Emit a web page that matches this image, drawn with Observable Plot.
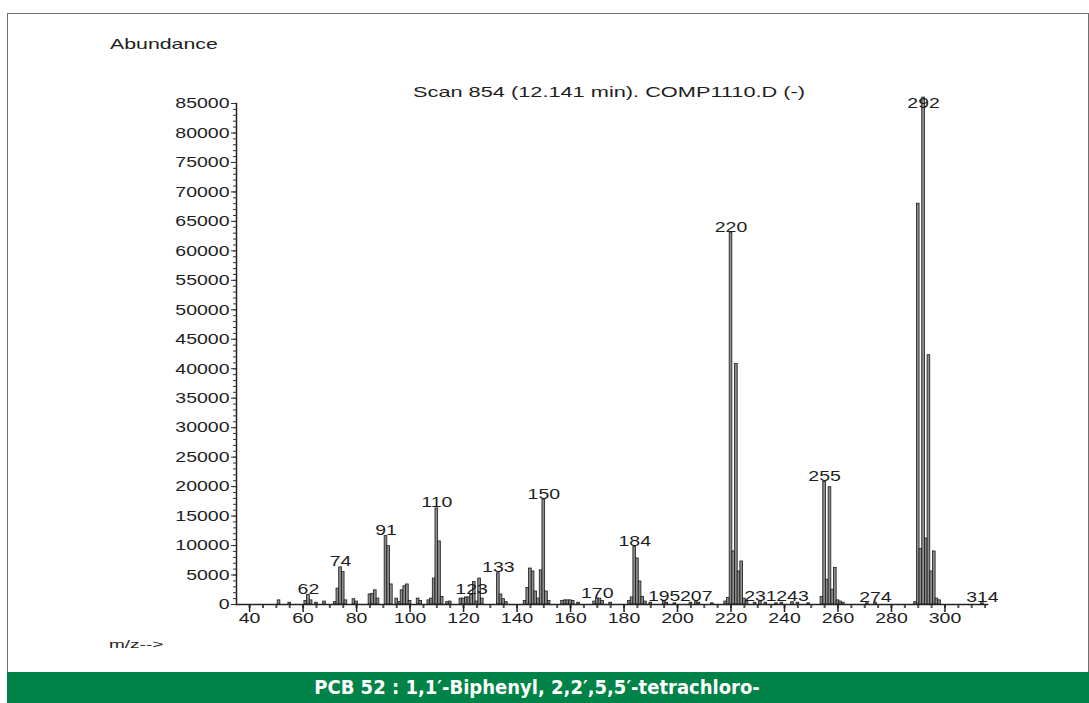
<!DOCTYPE html>
<html>
<head>
<meta charset="utf-8">
<script src="https://cdn.jsdelivr.net/npm/d3@7"></script>
<script src="https://cdn.jsdelivr.net/npm/@observablehq/plot@0.6"></script>
<style>
  html, body { margin: 0; padding: 0; background: #fff; width: 1089px; height: 703px; overflow: hidden; position: relative; }
  #frame { position: absolute; left: 7px; top: 13px; width: 1080px; height: 658px; border: 1.5px solid #707070; border-bottom: none; }
  #chart { position: absolute; left: 0; top: 0; }
  .lbl { position: absolute; font-family: "Liberation Sans", Arial, sans-serif; color: #1e1e1e; transform-origin: left center; white-space: nowrap; line-height: 1; }
  #footer { position: absolute; left: 7px; top: 672px; width: 1060px; padding-right: 22px; height: 31px; background: #008347; color: #fff;
            font: bold 20px "Liberation Sans Narrow", "DejaVu Sans Condensed", sans-serif; text-align: center; line-height: 31px; }
</style>
</head>
<body>
<div id="frame"></div>
<div id="chart"></div>
<div class="lbl" style="left:110px;top:36px;font-size:15px;transform:scaleX(1.42)">Abundance</div>
<div class="lbl" style="left:413px;top:84px;font-size:15px;transform:scaleX(1.45)">Scan 854 (12.141 min). COMP1110.D (-)</div>
<div class="lbl" style="left:109px;top:640px;font-size:10px;transform:scaleX(1.9)">m/z--&gt;</div>
<div id="footer">PCB 52 : 1,1′-Biphenyl, 2,2′,5,5′-tetrachloro-</div>

<script>
// Mass spectrum of PCB 52 (scan 854): m/z and abundance of each ion
const mz = [
  51, 55, 61, 62, 63, 65, 68, 72, 73, 74, 75, 76, 79, 80,
  85, 86, 87, 88, 91, 92, 93, 95, 96, 97, 98, 99, 100,
  103, 104, 107, 108, 109, 110, 111, 112, 114, 115,
  119, 120, 121, 122, 123, 124, 125, 126, 127,
  133, 134, 135, 136, 143, 144, 145, 146, 147, 148, 149, 150, 151, 152,
  157, 158, 159, 160, 161, 163, 169, 170, 171, 172, 175,
  182, 183, 184, 185, 186, 187, 188, 190, 195, 196, 199, 205, 207, 208, 213,
  218, 219, 220, 221, 222, 223, 224, 225, 226, 229, 231, 233, 237, 239, 243, 245, 249,
  254, 255, 256, 257, 258, 259, 260, 261, 262, 271, 274,
  289, 290, 291, 292, 293, 294, 295, 296, 297, 298, 314
];
const abundance = [
  700, 300, 600, 1600, 700, 300, 500, 400, 2700, 6300, 5500, 700, 900, 500,
  1700, 1800, 2400, 1000, 11600, 9900, 3400, 1000, 400, 2400, 3100, 3400, 600,
  1000, 600, 700, 1000, 4400, 16300, 10700, 1300, 400, 500,
  1000, 1000, 1200, 1200, 1600, 3800, 500, 4400, 1000,
  5300, 1700, 900, 400, 600, 2800, 6100, 5600, 2200, 1000, 5800, 17800, 2200, 600,
  600, 700, 700, 700, 600, 300, 500, 1000, 1000, 600, 300,
  600, 1200, 9800, 7800, 3900, 1300, 500, 300, 500, 300, 200, 300, 400, 300, 200,
  500, 1100, 63100, 9000, 40800, 5600, 7300, 1000, 500, 300, 500, 300, 200, 300, 400, 300, 200,
  1300, 20800, 4200, 19900, 2500, 6200, 700, 500, 300, 200, 300,
  400, 68000, 9400, 86000, 11200, 42300, 5600, 9000, 1000, 700, 200
];
// Ions annotated with their m/z
const labeledMz = [62, 74, 91, 110, 123, 133, 150, 170, 184, 195, 207, 220, 231, 243, 255, 274, 292, 314];

// Axis ticks
const xTicks = d3.range(40, 301, 20);
const xMinorTicks = d3.range(40, 316, 5);
const yTicks = d3.range(0, 85001, 5000);
const yMinorTicks = d3.range(0, 85001, 1000);

const peaks = mz.map((m, i) => ({mz: m, ab: abundance[i]}));
const labels = peaks.filter(d => labeledMz.includes(d.mz));

const font = "Liberation Sans, Arial, sans-serif";

const chart = Plot.plot({
  width: 1089,
  height: 672,
  marginLeft: 236,
  marginRight: 102,
  marginTop: 103,
  marginBottom: 68,
  style: {fontFamily: font, fontSize: "15px", color: "#1e1e1e", background: "transparent"},
  x: {domain: [35.1, 315.9], label: null},
  y: {domain: [0, 85000], label: null},
  marks: [
    Plot.axisY({ticks: yMinorTicks, tickSize: 3, text: null, label: null, strokeWidth: 1, stroke: "#333"}),
    Plot.axisY({ticks: yTicks, tickSize: 5, tickPadding: 2, tickFormat: "d", fontSize: 15, label: null, stroke: "#333"}),
    Plot.axisX({ticks: xMinorTicks, tickSize: 4, text: null, label: null, stroke: "#555", strokeWidth: 2}),
    Plot.axisX({ticks: xTicks, tickSize: 8, tickPadding: 0, tickFormat: "d", fontSize: 15, label: null, stroke: "#222", strokeWidth: 1.5}),
    Plot.rectY(peaks, {
      x1: d => d.mz - 0.5,
      x2: d => d.mz + 0.5,
      y: "ab",
      fill: "#8c8c8c",
      stroke: "#1a1a1a",
      strokeWidth: 0.8
    }),
    Plot.frame({anchor: "left", stroke: "#222", strokeWidth: 1.5}),
    Plot.frame({anchor: "bottom", stroke: "#222", strokeWidth: 1.5}),
    Plot.text(labels, {
      x: "mz",
      y: d => Math.min(d.ab, 84000),
      text: d => String(d.mz),
      lineAnchor: "bottom",
      dy: -1,
      fontSize: 15,
      fill: "#1e1e1e"
    })
  ]
});

// Widen the lettering of every label around its anchor point
chart.querySelectorAll("text").forEach(t => {
  const tr = t.getAttribute("transform");
  if (tr) {
    t.setAttribute("transform", tr + " scale(1.3,1)");
  } else if (t.hasAttribute("x") || t.hasAttribute("y")) {
    const x = t.getAttribute("x") || 0, y = t.getAttribute("y") || 0;
    t.removeAttribute("x"); t.removeAttribute("y");
    t.setAttribute("transform", `translate(${x},${y}) scale(1.3,1)`);
  }
});

document.getElementById("chart").appendChild(chart);
</script>
</body>
</html>
